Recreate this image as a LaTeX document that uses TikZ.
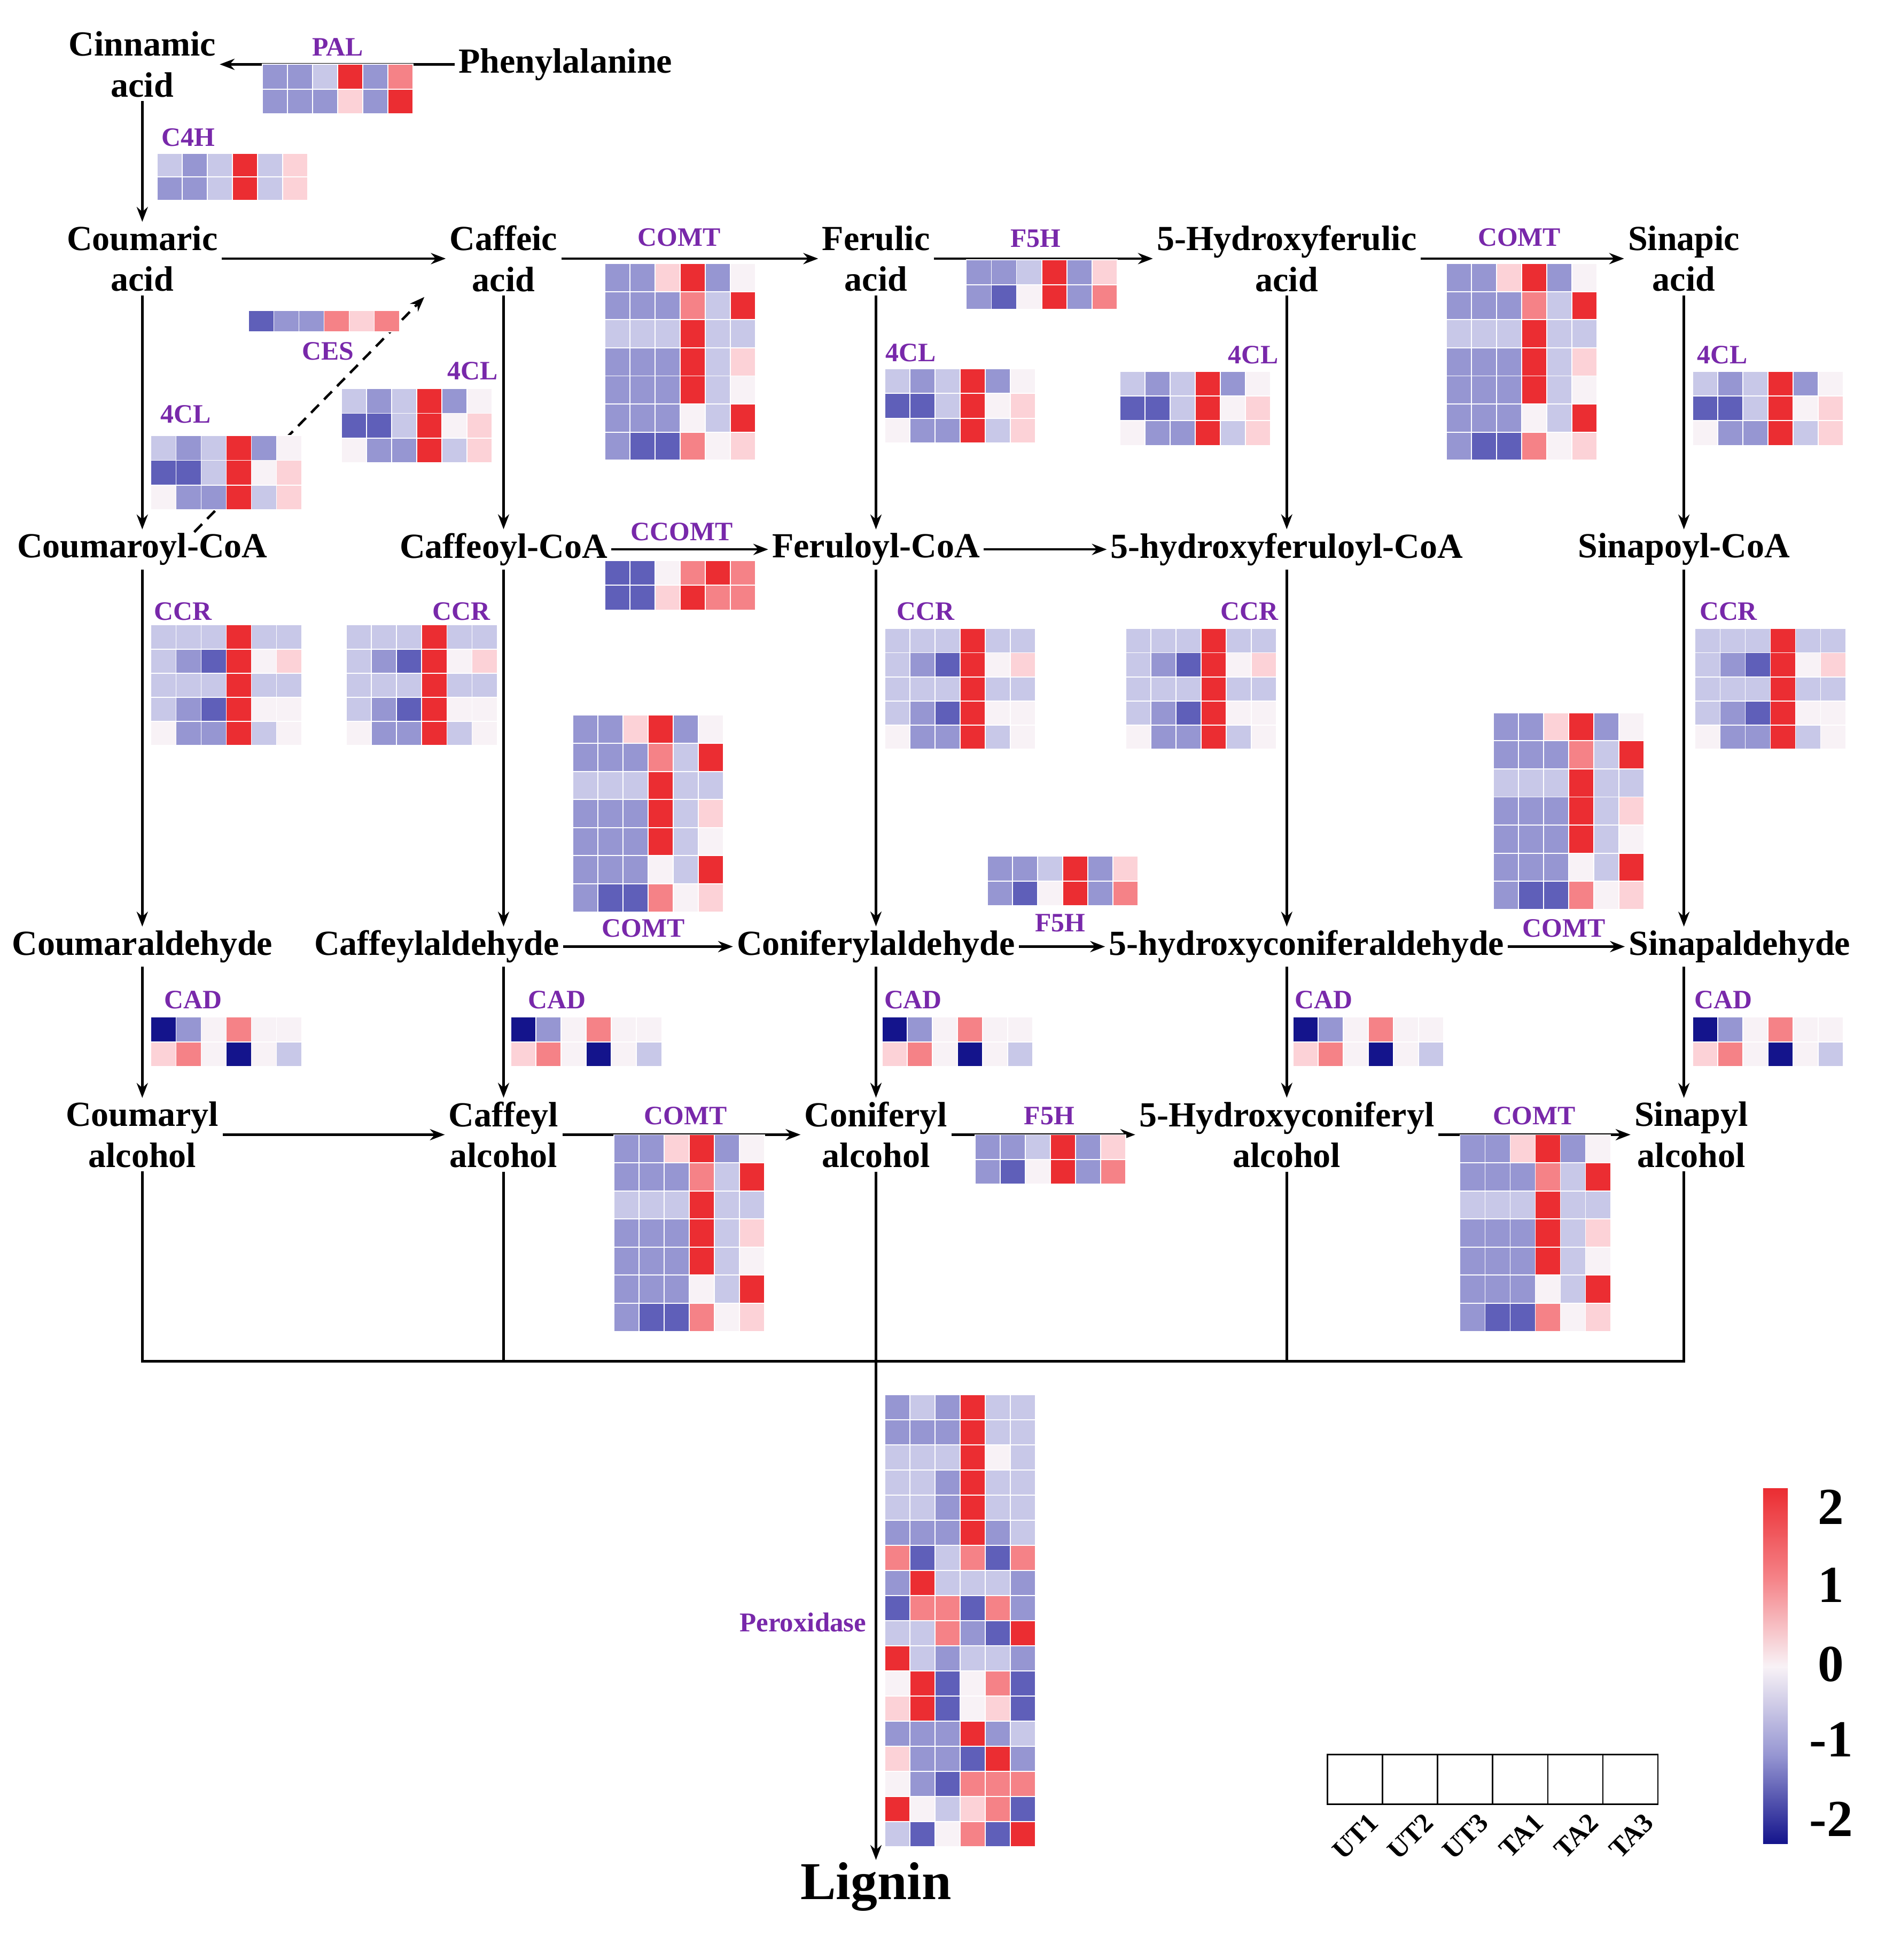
\documentclass[tikz,border=0pt]{standalone}
\usepackage{fontspec}
\setmainfont{Liberation Serif}
\usetikzlibrary{arrows.meta}
\definecolor{enz}{RGB}{120,40,170}
\definecolor{hmB}{RGB}{20,20,140}
\definecolor{hmM}{RGB}{95,95,185}
\definecolor{hmb}{RGB}{150,150,210}
\definecolor{hml}{RGB}{200,200,232}
\definecolor{hmw}{RGB}{248,242,246}
\definecolor{hmp}{RGB}{252,210,215}
\definecolor{hmP}{RGB}{245,130,135}
\definecolor{hmR}{RGB}{235,45,50}
\newcommand\hm[4]{% x y cellh rows-macro
  \foreach \row [count=\i from 0] in #4 {
    \foreach \c [count=\j from 0] in \row {
      \fill[fill=hm\c,draw=white,line width=0.8pt] (#1+20.3*\j,#2+#3*\i) rectangle ++(20.3,#3);
    }
  }
}
\def\pal{{b,b,l,R,b,P},{b,b,b,p,b,R}}
\def\cfh{{l,b,l,R,l,p},{b,b,l,R,l,p}}
\def\ces{{M,b,b,P,p,P}}
\def\fourcl{{l,b,l,R,b,w},{M,M,l,R,w,p},{w,b,b,R,l,p}}
\def\comt{{b,b,p,R,b,w},{b,b,b,P,l,R},{l,l,l,R,l,l},{b,b,b,R,l,p},{b,b,b,R,l,w},{b,b,b,w,l,R},{b,M,M,P,w,p}}
\def\ffh{{b,b,l,R,b,p},{b,M,w,R,b,P}}
\def\ccomt{{M,M,w,P,R,P},{M,M,p,R,P,P}}
\def\ccr{{l,l,l,R,l,l},{l,b,M,R,w,p},{l,l,l,R,l,l},{l,b,M,R,w,w},{w,b,b,R,l,w}}
\def\cad{{B,b,w,P,w,w},{p,P,w,B,w,l}}
\def\prx{{b,l,b,R,l,l},{b,b,b,R,l,l},{l,l,l,R,w,l},{l,l,b,R,l,l},{l,l,b,R,l,l},{b,b,b,R,b,l},{P,M,l,P,M,P},{b,R,l,l,l,b},{M,P,P,M,P,b},{l,l,P,b,M,R},{R,l,b,l,l,b},{w,R,M,w,P,M},{p,R,M,w,p,M},{b,b,b,R,b,l},{p,b,b,M,R,b},{w,b,M,P,P,P},{R,w,l,p,P,M},{l,M,w,P,M,R}}
\begin{document}
\begin{tikzpicture}[x=1pt,y=-1pt,
  met/.style={font=\fontsize{28.5}{33}\selectfont\bfseries,align=center,inner sep=3pt},
  en/.style={font=\fontsize{21.5}{25}\selectfont\bfseries,text=enz,inner sep=0pt},
  ar/.style={-{Stealth[length=12pt,width=9pt]},line width=2pt},
  ln/.style={line width=2pt}]
\useasboundingbox (0,0) rectangle (1530,1584);
% metabolites
\node[met] (cin) at (115,52) {Cinnamic\\acid};
\node[met] (phe) at (457,52) {Phenylalanine};
\node[met] (cou) at (115,209) {Coumaric\\acid};
\node[met] (caf) at (407,209) {Caffeic\\acid};
\node[met] (fer) at (708,209) {Ferulic\\acid};
\node[met] (hfa) at (1040,209) {5-Hydroxyferulic\\acid};
\node[met] (sin) at (1361,209) {Sinapic\\acid};
\node[met] (coa1) at (115,444) {Coumaroyl-CoA};
\node[met] (coa2) at (407,444) {Caffeoyl-CoA};
\node[met] (coa3) at (708,444) {Feruloyl-CoA};
\node[met] (coa4) at (1040,444) {5-hydroxyferuloyl-CoA};
\node[met] (coa5) at (1361,444) {Sinapoyl-CoA};
\node[met] (al1) at (115,765) {Coumaraldehyde};
\node[met] (al2) at (353,765) {Caffeylaldehyde};
\node[met] (al3) at (708,765) {Coniferylaldehyde};
\node[met] (al4) at (1056,765) {5-hydroxyconiferaldehyde};
\node[met] (al5) at (1406,765) {Sinapaldehyde};
\node[met] (oh1) at (115,917) {Coumaryl\\alcohol};
\node[met] (oh2) at (407,917) {Caffeyl\\alcohol};
\node[met] (oh3) at (708,917) {Coniferyl\\alcohol};
\node[met] (oh4) at (1040,917) {5-Hydroxyconiferyl\\alcohol};
\node[met] (oh5) at (1367,917) {Sinapyl\\alcohol};
\node[font=\fontsize{43}{48}\selectfont\bfseries,inner sep=2pt] (lig) at (708,1525) {Lignin};
% connectors
\draw[ar] (phe.west) -- (cin.east);
\draw[ar] (cin.south) -- (cou.north);
\draw[ar] (cou.east) -- (caf.west);
\draw[ar] (caf.east) -- (fer.west);
\draw[ar] (fer.east) -- (hfa.west);
\draw[ar] (hfa.east) -- (sin.west);
\draw[ar] (cou.south) -- (coa1.north);
\draw[ar] (caf.south) -- (coa2.north);
\draw[ar] (fer.south) -- (coa3.north);
\draw[ar] (hfa.south) -- (coa4.north);
\draw[ar] (sin.south) -- (coa5.north);
\coordinate (cesA) at (157,430); \coordinate (cesB) at (343,240);
\draw[ar,dash pattern=on 9pt off 6pt] (cesA) -- (cesB);
\draw[ar] (coa2.east) -- (coa3.west);
\draw[ar] (coa3.east) -- (coa4.west);
\draw[ar] (coa1.south) -- (al1.north);
\draw[ar] (coa2.south) -- (coa2.south |- al1.north);
\draw[ar] (coa3.south) -- (al3.north);
\draw[ar] (coa4.south) -- (coa4.south |- al1.north);
\draw[ar] (coa5.south) -- (coa5.south |- al1.north);
\draw[ar] (al2.east) -- (al3.west);
\draw[ar] (al3.east) -- (al4.west);
\draw[ar] (al4.east) -- (al5.west);
\draw[ar] (al1.south) -- (oh1.north);
\draw[ar] (al2.south -| oh2) -- (oh2.north);
\draw[ar] (al3.south) -- (oh3.north);
\draw[ar] (al4.south -| oh4) -- (oh4.north);
\draw[ar] (al5.south -| coa5) -- (oh5.north -| coa5);
\draw[ar] (oh1.east) -- (oh2.west);
\draw[ar] (oh2.east) -- (oh3.west);
\draw[ar] (oh3.east) -- (oh4.west);
\draw[ar] (oh4.east) -- (oh5.west);
\coordinate (j1) at (115,1100); \coordinate (j5) at (1361,1100);
\draw[ln] (oh1.south) -- (j1) -- (j5) -- (oh5.south -| j5);
\draw[ln] (oh2.south) -- (oh2.south |- j1);
\draw[ln] (oh4.south) -- (oh4.south |- j1);
\draw[ar] (oh3.south) -- (lig.north);
% enzyme labels
\node[en] at (273,38) {PAL};
\node[en] at (152,111) {C4H};
\node[en] at (265,284) {CES};
\node[en] at (549,192) {COMT};
\node[en] at (837,193) {F5H};
\node[en] at (1228,192) {COMT};
\node[en] at (150,335) {4CL};
\node[en] at (382,300) {4CL};
\node[en] at (736,285) {4CL};
\node[en] at (1013,287) {4CL};
\node[en] at (1392,287) {4CL};
\node[en] at (551,430) {CCOMT};
\foreach \x in {148,373,748,1010,1397} \node[en] at (\x,494) {CCR};
\node[en] at (520,750) {COMT};
\node[en] at (857,746) {F5H};
\node[en] at (1264,750) {COMT};
\foreach \x in {156,450,738,1070,1393} \node[en] at (\x,808) {CAD};
\node[en] at (554,902) {COMT};
\node[en] at (848,902) {F5H};
\node[en] at (1240,902) {COMT};
\node[en,font=\fontsize{22}{26}\selectfont\bfseries] at (649,1311) {Peroxidase};
% heatmaps
\hm{212}{52}{20}{\pal}
\hm{127}{124}{19}{\cfh}
\hm{201}{251}{17}{\ces}
\hm{122}{352}{20}{\fourcl}
\hm{276}{314}{20}{\fourcl}
\hm{715}{298}{20}{\fourcl}
\hm{905}{300}{20}{\fourcl}
\hm{1368}{300}{20}{\fourcl}
\hm{489}{213}{22.7}{\comt}
\hm{1169}{213}{22.7}{\comt}
\hm{463}{578}{22.7}{\comt}
\hm{1207}{576}{22.7}{\comt}
\hm{496}{917}{22.7}{\comt}
\hm{1180}{917}{22.7}{\comt}
\hm{781}{210}{20}{\ffh}
\hm{798}{692}{20}{\ffh}
\hm{788}{917}{20}{\ffh}
\hm{489}{453}{20}{\ccomt}
\hm{122}{505}{19.5}{\ccr}
\hm{280}{505}{19.5}{\ccr}
\hm{715}{508}{19.5}{\ccr}
\hm{910}{508}{19.5}{\ccr}
\hm{1370}{508}{19.5}{\ccr}
\hm{122}{822}{20}{\cad}
\hm{413}{822}{20}{\cad}
\hm{713}{822}{20}{\cad}
\hm{1045}{822}{20}{\cad}
\hm{1368}{822}{20}{\cad}
\hm{715}{1127}{20.3}{\prx}
% colour bar
\shade[bottom color=hmB, top color=hmw, middle color=hmb] (1425,1347) rectangle (1445,1490);
\shade[bottom color=hmw, top color=hmR, middle color=hmP] (1425,1203) rectangle (1445,1347);
\foreach \v/\y in {2/1218,1/1281,0/1345,-1/1406,-2/1470}
  \node[font=\fontsize{42}{46}\selectfont\bfseries,anchor=center] at (1480,\y) {\v};
% legend
\foreach \n [count=\k from 0] in {UT1,UT2,UT3,TA1,TA2,TA3} {
  \draw[line width=1.2pt] (1073+44.5*\k,1418) rectangle ++(44.5,40);
  \node[font=\fontsize{22}{26}\selectfont\bfseries,rotate=45,anchor=north east,inner sep=0pt] at (1073+44.5*\k+32,1464) {\n};
}
\end{tikzpicture}
\end{document}
